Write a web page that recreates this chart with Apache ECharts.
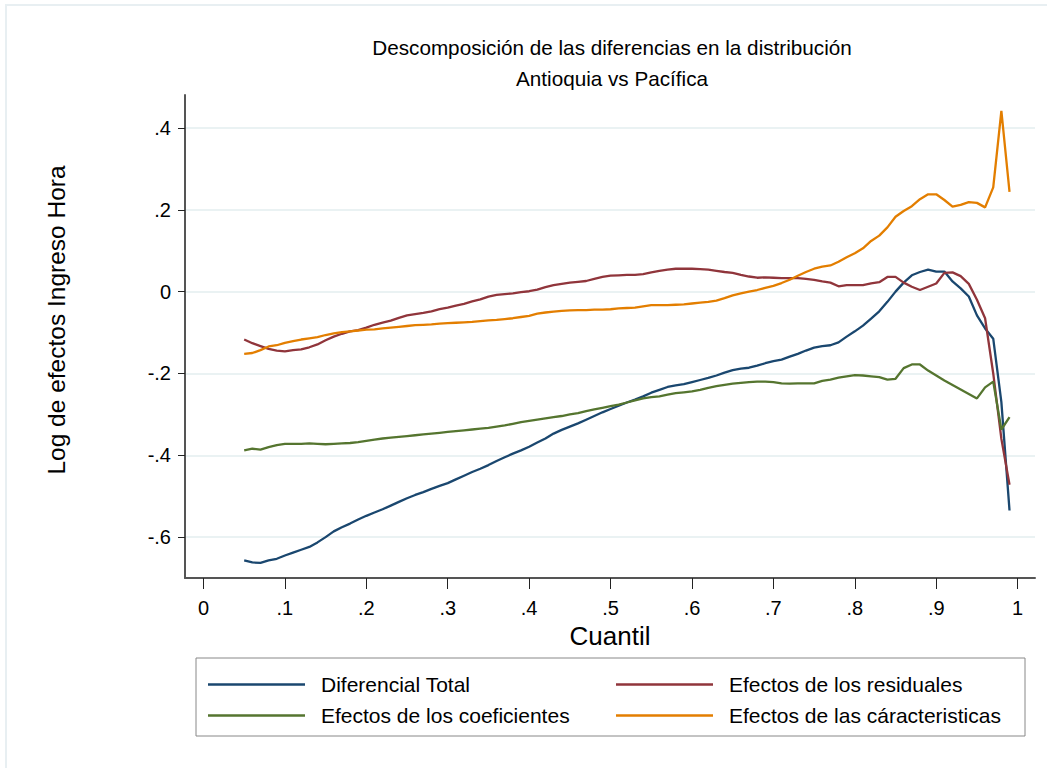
<!DOCTYPE html>
<html>
<head>
<meta charset="utf-8">
<script src="https://cdn.jsdelivr.net/npm/echarts@6/dist/echarts.min.js"></script>
<style>html,body{margin:0;padding:0;background:#fff}#c{width:1047px;height:768px}</style>
</head>
<body>
<div id="c"></div>
<script>
const quantiles = [0.05,0.06,0.07,0.08,0.09,0.10,0.11,0.12,0.13,0.14,0.15,0.16,0.17,0.18,0.19,0.20,0.21,0.22,0.23,0.24,0.25,0.26,0.27,0.28,0.29,0.30,0.31,0.32,0.33,0.34,0.35,0.36,0.37,0.38,0.39,0.40,0.41,0.42,0.43,0.44,0.45,0.46,0.47,0.48,0.49,0.50,0.51,0.52,0.53,0.54,0.55,0.56,0.57,0.58,0.59,0.60,0.61,0.62,0.63,0.64,0.65,0.66,0.67,0.68,0.69,0.70,0.71,0.72,0.73,0.74,0.75,0.76,0.77,0.78,0.79,0.80,0.81,0.82,0.83,0.84,0.85,0.86,0.87,0.88,0.89,0.90,0.91,0.92,0.93,0.94,0.95,0.96,0.97,0.98,0.99];

const diferencialTotal = [-0.657,-0.662,-0.663,-0.657,-0.653,-0.645,-0.638,-0.631,-0.624,-0.613,-0.600,-0.586,-0.576,-0.567,-0.557,-0.548,-0.540,-0.532,-0.523,-0.514,-0.505,-0.497,-0.490,-0.482,-0.475,-0.468,-0.459,-0.450,-0.441,-0.433,-0.424,-0.414,-0.405,-0.396,-0.388,-0.379,-0.369,-0.359,-0.347,-0.338,-0.330,-0.322,-0.313,-0.304,-0.295,-0.287,-0.279,-0.271,-0.264,-0.256,-0.247,-0.240,-0.233,-0.229,-0.226,-0.221,-0.216,-0.211,-0.205,-0.198,-0.192,-0.188,-0.186,-0.181,-0.175,-0.170,-0.166,-0.159,-0.152,-0.144,-0.137,-0.133,-0.131,-0.124,-0.110,-0.097,-0.083,-0.066,-0.048,-0.025,0.000,0.022,0.040,0.048,0.054,0.049,0.049,0.025,0.008,-0.012,-0.058,-0.090,-0.115,-0.270,-0.535];

const efectosResiduales = [-0.117,-0.126,-0.133,-0.140,-0.144,-0.146,-0.143,-0.141,-0.136,-0.129,-0.119,-0.110,-0.103,-0.097,-0.094,-0.088,-0.081,-0.076,-0.071,-0.064,-0.058,-0.055,-0.052,-0.048,-0.043,-0.039,-0.034,-0.030,-0.024,-0.019,-0.012,-0.008,-0.006,-0.004,-0.001,0.001,0.005,0.011,0.016,0.019,0.022,0.024,0.026,0.031,0.036,0.039,0.040,0.041,0.041,0.043,0.047,0.051,0.054,0.056,0.056,0.056,0.055,0.054,0.051,0.048,0.046,0.041,0.037,0.034,0.035,0.034,0.033,0.033,0.033,0.031,0.029,0.025,0.022,0.013,0.016,0.016,0.016,0.020,0.023,0.036,0.036,0.022,0.012,0.004,0.012,0.020,0.046,0.047,0.038,0.019,-0.020,-0.065,-0.200,-0.360,-0.472];

const efectosCoeficientes = [-0.388,-0.384,-0.386,-0.380,-0.375,-0.372,-0.372,-0.372,-0.371,-0.372,-0.373,-0.372,-0.371,-0.370,-0.368,-0.365,-0.362,-0.359,-0.357,-0.355,-0.353,-0.351,-0.349,-0.347,-0.345,-0.343,-0.341,-0.339,-0.337,-0.335,-0.333,-0.330,-0.327,-0.323,-0.319,-0.316,-0.313,-0.310,-0.307,-0.304,-0.300,-0.297,-0.292,-0.288,-0.284,-0.280,-0.276,-0.271,-0.266,-0.261,-0.258,-0.256,-0.252,-0.248,-0.246,-0.244,-0.240,-0.235,-0.231,-0.228,-0.225,-0.223,-0.221,-0.220,-0.220,-0.221,-0.224,-0.225,-0.224,-0.224,-0.224,-0.218,-0.215,-0.210,-0.207,-0.204,-0.205,-0.207,-0.209,-0.215,-0.213,-0.187,-0.178,-0.178,-0.193,-0.205,-0.217,-0.228,-0.239,-0.250,-0.261,-0.234,-0.220,-0.337,-0.307];

const efectosCaracteristicas = [-0.152,-0.150,-0.143,-0.134,-0.131,-0.125,-0.121,-0.117,-0.114,-0.111,-0.106,-0.102,-0.099,-0.097,-0.095,-0.093,-0.092,-0.090,-0.088,-0.086,-0.084,-0.082,-0.081,-0.080,-0.078,-0.077,-0.076,-0.075,-0.074,-0.072,-0.070,-0.069,-0.067,-0.065,-0.062,-0.059,-0.054,-0.051,-0.049,-0.047,-0.046,-0.045,-0.045,-0.044,-0.044,-0.043,-0.041,-0.040,-0.039,-0.036,-0.033,-0.033,-0.033,-0.032,-0.031,-0.029,-0.027,-0.025,-0.022,-0.016,-0.009,-0.004,0.000,0.004,0.009,0.014,0.021,0.029,0.039,0.048,0.056,0.061,0.064,0.073,0.084,0.094,0.106,0.124,0.137,0.157,0.183,0.197,0.209,0.226,0.238,0.238,0.224,0.208,0.212,0.219,0.217,0.206,0.255,0.442,0.244];

const xTicks = [0,0.1,0.2,0.3,0.4,0.5,0.6,0.7,0.8,0.9,1];
const yTicks = [-0.6,-0.4,-0.2,0,0.2,0.4];

const seriesNames = ['Diferencial Total','Efectos de los residuales','Efectos de los coeficientes','Efectos de las cáracteristicas'];
const seriesColors = ['#1a476f','#90353b','#55752f','#e37e00'];
const seriesValues = [diferencialTotal, efectosResiduales, efectosCoeficientes, efectosCaracteristicas];

const FONT = '"Liberation Sans", Arial, sans-serif';
function fmt(v){ if (Math.abs(v) < 1e-9) return '0'; let s = String(+v.toFixed(2)); return s.replace('0.', '.'); }

const chart = echarts.init(document.getElementById('c'), null, {renderer:'svg'});
chart.setOption({
  backgroundColor:'#ffffff',
  animation:false,
  textStyle:{fontFamily:FONT},
  grid:{left:185, right:12, top:95, bottom:190, containLabel:false},
  xAxis:{
    type:'value', min:-0.0227, max:1.0213,
    axisLine:{show:true, onZero:false, lineStyle:{color:'#555555', width:2}},
    axisTick:{show:true, length:11, customValues:xTicks, lineStyle:{color:'#222222', width:1}},
    axisLabel:{customValues:xTicks, formatter:fmt, color:'#000', fontSize:20, margin:20, fontFamily:FONT},
    splitLine:{show:false},
    name:'Cuantil', nameLocation:'middle', nameGap:55,
    nameTextStyle:{fontSize:26, color:'#000', verticalAlign:'middle', fontFamily:FONT}
  },
  yAxis:{
    type:'value', min:-0.7, max:0.4807,
    axisLine:{show:true, onZero:false, lineStyle:{color:'#555555', width:2}},
    axisTick:{show:true, length:7, customValues:yTicks, lineStyle:{color:'#222222', width:1}},
    axisLabel:{customValues:yTicks, formatter:fmt, color:'#000', fontSize:20, margin:14, fontFamily:FONT},
    splitLine:{show:true, lineStyle:{color:'#eaf2f3', width:2}}
  },
  legend:{
    left:203, top:664, width:822, orient:'horizontal',
    itemGap:0, itemWidth:97, itemHeight:2.5, icon:'rect',
    data:seriesNames,
    textStyle:{fontSize:21, color:'#000', width:295, height:31, lineHeight:31, padding:[0,0,0,11], fontFamily:FONT}
  },
  graphic:[
    {type:'rect', silent:true, shape:{x:6, y:5, width:1100, height:900}, style:{fill:'none', stroke:'#e8eff2', lineWidth:2}},
    {type:'rect', silent:true, shape:{x:196, y:658, width:829, height:78}, style:{fill:'none', stroke:'#888888', lineWidth:1}},
    {type:'text', x:612, y:47, style:{text:'Descomposición de las diferencias en la distribución', fontSize:20.7, fontFamily:FONT, fill:'#000', align:'center', verticalAlign:'middle'}},
    {type:'text', x:612, y:78, style:{text:'Antioquia vs Pacífica', fontSize:20.7, fontFamily:FONT, fill:'#000', align:'center', verticalAlign:'middle'}},
    {type:'text', x:56, y:320, rotation:Math.PI/2, style:{text:'Log de efectos Ingreso Hora', fontSize:24.5, fontFamily:FONT, fill:'#000', align:'center', verticalAlign:'middle'}}
  ],
  series: seriesNames.map((n,i)=>({
    name:n, type:'line', showSymbol:false, symbol:'none',
    color:seriesColors[i],
    lineStyle:{color:seriesColors[i], width:2.3},
    data: quantiles.map((q,j)=>[q, seriesValues[i][j]])
  }))
});
</script>
</body>
</html>
